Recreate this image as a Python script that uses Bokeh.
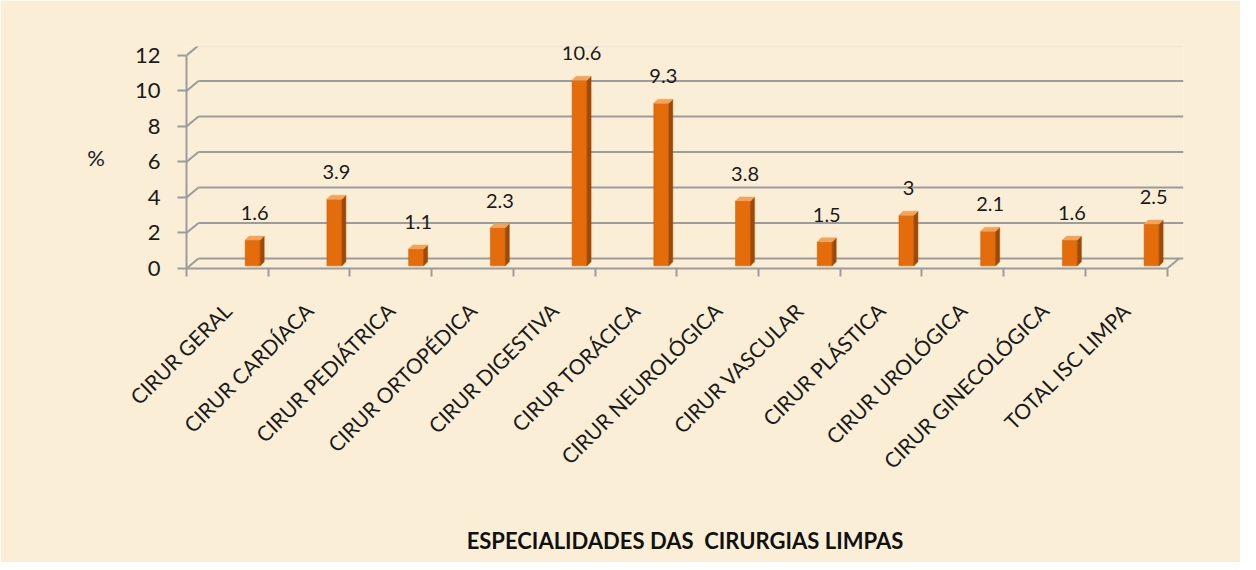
from bokeh.plotting import figure
from bokeh.models import Range1d, FixedTicker, ColumnDataSource
from bokeh.embed import file_html
from bokeh.resources import INLINE
from bokeh.core.properties import value

categories = ["CIRUR GERAL", "CIRUR CARDÍACA", "CIRUR PEDIÁTRICA", "CIRUR ORTOPÉDICA",
              "CIRUR DIGESTIVA", "CIRUR TORÁCICA", "CIRUR NEUROLÓGICA", "CIRUR VASCULAR",
              "CIRUR PLÁSTICA", "CIRUR UROLÓGICA", "CIRUR GINECOLÓGICA", "TOTAL ISC LIMPA"]
values = [1.6, 3.9, 1.1, 2.3, 10.6, 9.3, 3.8, 1.5, 3.0, 2.1, 1.6, 2.5]
value_labels = ["1.6", "3.9", "1.1", "2.3", "10.6", "9.3", "3.8", "1.5", "3", "2.1", "1.6", "2.5"]
y_ticks = [0, 2, 4, 6, 8, 10, 12]

FONT = "Lato"
BG = "#FAEFD6"
GRID = "#9C9C9C"
n = len(categories)

p = figure(width=1240, height=562, output_backend="svg", toolbar_location=None,
           x_range=Range1d(0, 12.2), y_range=Range1d(0, 12.5),
           min_border_left=186, min_border_right=57, min_border_top=46, min_border_bottom=294)
p.background_fill_color = BG
p.border_fill_color = BG
p.outline_line_color = None
p.xgrid.visible = False
p.ygrid.visible = False

# pseudo-3D wall depth (in data units)
px_x = 81.75   # px per category
px_y = 17.75   # px per unit
wdx = 12 / px_x
wdy = 10 / px_y

# back wall grid lines
p.segment(x0=[wdx] * len(y_ticks), y0=[t + wdy for t in y_ticks],
          x1=[12.2] * len(y_ticks), y1=[t + wdy for t in y_ticks],
          line_color=GRID, line_width=2)
p.segment(x0=[0] * len(y_ticks), y0=y_ticks, x1=[wdx] * len(y_ticks),
          y1=[t + wdy for t in y_ticks], line_color=GRID, line_width=2)
# floor right edge
p.segment(x0=[n], y0=[0], x1=[n + wdx], y1=[wdy], line_color=GRID, line_width=2)

# 3D bars
bdx = 4 / px_x
bdy = 4 / px_y
bw = 15 / px_x
off = 0.81
xs_left = [i + off - bw / 2 for i in range(n)]
xs_right = [i + off + bw / 2 for i in range(n)]
p.quad(left=xs_left, right=xs_right, bottom=[0.15] * n, top=values,
       fill_color="#E46C0A", line_color="#C85A05", line_width=0.5)
side_x = [[r, r + bdx, r + bdx, r] for r in xs_right]
side_y = [[0.15, 0.15 + bdy, v + bdy, v] for v in values]
p.patches(side_x, side_y, fill_color="#9E4A06", line_color="#9E4A06", line_width=0.5)
top_x = [[l, r, r + bdx, l + bdx] for l, r in zip(xs_left, xs_right)]
top_y = [[v, v, v + bdy, v + bdy] for v in values]
p.patches(top_x, top_y, fill_color="#F3A35A", line_color="#F3A35A", line_width=0.5)

# value labels
src = ColumnDataSource(dict(x=[i + off + bdx / 2 for i in range(n)],
                            y=[v + 27 / px_y for v in values], t=value_labels))
p.text(x="x", y="y", text="t", source=src, text_align="center", text_baseline="alphabetic",
       text_font=value(FONT), text_font_size="20px", text_color="#1a1a1a")

# axes
p.yaxis.ticker = FixedTicker(ticks=y_ticks)
p.yaxis.bounds = (0, 12)
p.yaxis.axis_line_color = GRID
p.yaxis.axis_line_width = 2
p.yaxis.major_tick_line_color = GRID
p.yaxis.major_tick_line_width = 2
p.yaxis.major_tick_out = 9
p.yaxis.major_tick_in = 0
p.yaxis.minor_tick_line_color = None
p.yaxis.major_label_text_font = FONT
p.yaxis.major_label_text_font_size = "22px"
p.yaxis.major_label_text_color = "#1a1a1a"
p.yaxis.major_label_standoff = 17
p.yaxis.axis_label = "%"
p.yaxis.axis_label_orientation = "horizontal"
p.yaxis.axis_label_text_font = FONT
p.yaxis.axis_label_text_font_style = "normal"
p.yaxis.axis_label_text_font_size = "22px"
p.yaxis.axis_label_text_color = "#1a1a1a"
p.yaxis.axis_label_standoff = 27

centers = [i + 0.5 for i in range(n)]
p.xaxis.ticker = FixedTicker(ticks=centers, minor_ticks=list(range(n + 1)))
p.xaxis.major_label_overrides = {c: lab for c, lab in zip(centers, categories)}
p.xaxis.bounds = (0, n)
p.xaxis.axis_line_color = GRID
p.xaxis.axis_line_width = 2
p.xaxis.major_tick_line_color = None
p.xaxis.minor_tick_line_color = GRID
p.xaxis.minor_tick_line_width = 2
p.xaxis.minor_tick_out = 8
p.xaxis.minor_tick_in = 0
p.xaxis.major_label_orientation = 0.785398
p.xaxis.major_label_text_font = FONT
p.xaxis.major_label_text_font_size = "21px"
p.xaxis.major_label_text_color = "#1a1a1a"
p.xaxis.major_label_standoff = 30
p.xaxis.axis_label = "ESPECIALIDADES DAS\u00a0 CIRURGIAS LIMPAS"
p.xaxis.axis_label_text_font = FONT
p.xaxis.axis_label_text_font_size = "22px"
p.xaxis.axis_label_text_font_style = "bold"
p.xaxis.axis_label_text_color = "#111111"
p.xaxis.axis_label_standoff = 42

open("out.html", "w").write(file_html(p, INLINE))
